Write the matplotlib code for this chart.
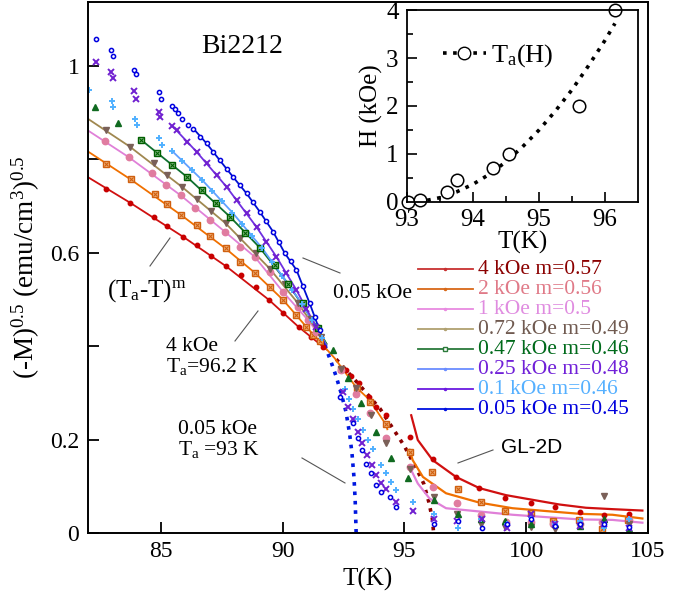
import matplotlib.pyplot as plt
from matplotlib.lines import Line2D

plt.rcParams['font.family'] = ['Liberation Serif', 'DejaVu Serif']
plt.rcParams['mathtext.fontset'] = 'custom'
plt.rcParams['mathtext.rm'] = 'Liberation Serif'
plt.rcParams['mathtext.it'] = 'Liberation Serif:italic'

# ---- 4 kOe ----
t_4k = [82.75, 83.74, 84.72, 85.26, 85.92, 86.47, 87.08, 87.68, 88.31, 88.89, 89.44, 90.02,
        90.66, 91.18, 91.66, 92.60, 92.82, 93.12, 93.54, 93.84, 94.25,
        95.21, 96.16, 97.12, 98.08, 99.15, 100.2, 101.2, 102.2, 103.2, 104.2]
m_4k = [0.736, 0.707, 0.677, 0.657, 0.634, 0.616, 0.593, 0.571, 0.552, 0.526, 0.499, 0.470,
        0.441, 0.420, 0.399, 0.349, 0.336, 0.322, 0.292, 0.269, 0.252,
        0.206, 0.158, 0.120, 0.096, 0.074, 0.065, 0.055, 0.045, 0.038, 0.040]
fit_t_4k = [82.0, 83.74, 85.92, 87.68, 89.44, 90.66, 91.8]
fit_m_4k = [0.762, 0.707, 0.634, 0.571, 0.499, 0.441, 0.393]
ext_t_4k = [92.2, 92.6, 93.1, 93.5, 94.0, 94.5, 95.0, 95.5, 95.8, 96.0, 96.15, 96.2]
ext_m_4k = [0.372, 0.349, 0.320, 0.296, 0.266, 0.226, 0.186, 0.137, 0.105, 0.067, 0.03, 0.0]
gl_t_4k = [95.28, 95.55, 96.16, 97.12, 98.08, 99.17, 100.26, 101.36, 102.45, 103.54, 104.77]
gl_m_4k = [0.252, 0.199, 0.156, 0.120, 0.096, 0.081, 0.071, 0.061, 0.054, 0.051, 0.048]

# ---- 2 kOe ----
t_2k = [82.75, 83.76, 84.76, 85.26, 85.85, 86.47, 87.04, 87.66, 88.24, 88.86, 89.47, 90.02,
        90.57, 90.98, 91.25, 91.52, 92.41, 93.05, 93.60, 94.23,
        95.24, 96.13, 97.19, 98.15, 99.15, 100.2, 101.1, 102.15, 103.13, 104.16]
m_2k = [0.790, 0.757, 0.725, 0.704, 0.680, 0.659, 0.636, 0.609, 0.581, 0.557, 0.526, 0.499,
        0.467, 0.441, 0.424, 0.410, 0.352, 0.310, 0.280, 0.233,
        0.174, 0.131, 0.094, 0.067, 0.047, 0.042, 0.025, 0.028, 0.008, 0.028]
fit_t_2k = [82.0, 83.76, 85.85, 87.66, 88.86, 90.02, 90.98, 91.52, 92.14, 93.02, 93.57, 94.23, 94.3]
fit_m_2k = [0.817, 0.757, 0.680, 0.609, 0.557, 0.499, 0.441, 0.410, 0.374, 0.312, 0.285, 0.233, 0.222]
gl_t_2k = [95.21, 95.34, 95.76, 96.71, 98.08, 99.44, 100.8, 102.2, 103.54, 104.77]
gl_m_2k = [0.178, 0.156, 0.120, 0.085, 0.065, 0.053, 0.047, 0.041, 0.039, 0.031]

# ---- 1 kOe ----
t_1k = [82.71, 83.70, 84.66, 85.21, 85.81, 86.40, 87.01, 87.63, 88.24, 88.86, 89.47, 90.02,
        90.63, 91.04, 91.38, 92.41, 93.02, 93.60, 94.23,
        95.21, 96.16, 97.15, 98.15, 99.17, 100.2, 101.1, 102.2, 103.1, 104.2]
m_1k = [0.840, 0.804, 0.770, 0.745, 0.723, 0.695, 0.670, 0.645, 0.613, 0.591, 0.559, 0.516,
        0.483, 0.456, 0.431, 0.349, 0.298, 0.256, 0.203,
        0.142, 0.099, 0.065, 0.039, 0.024, 0.024, 0.020, 0.020, 0.024, 0.028]
fit_t_1k = [82.0, 83.70, 85.81, 87.63, 88.86, 90.02, 91.04, 91.8]
fit_m_1k = [0.862, 0.804, 0.723, 0.645, 0.591, 0.516, 0.456, 0.404]
gl_t_1k = [95.21, 95.55, 96.03, 96.71, 98.08, 99.44, 100.8, 102.2, 103.54, 104.77]
gl_m_1k = [0.142, 0.106, 0.074, 0.053, 0.046, 0.039, 0.034, 0.029, 0.028, 0.022]

# ---- 0.72 kOe ----
t_072 = [82.75, 83.73, 84.72, 85.26, 85.89, 86.47, 87.05, 87.66, 88.27, 88.90, 89.47, 90.09,
         90.63, 91.18, 91.59, 92.41, 93.02, 93.64, 94.25, 95.21, 96.20,
         97.15, 98.15, 99.15, 100.2, 101.2, 102.2, 103.2, 104.2]
m_072 = [0.862, 0.827, 0.791, 0.766, 0.740, 0.716, 0.690, 0.663, 0.631, 0.599, 0.566, 0.534,
         0.492, 0.459, 0.420, 0.352, 0.310, 0.253, 0.192, 0.138, 0.078,
         0.040, 0.020, 0.012, 0.012, 0.008, 0.015, 0.079, 0.020]
fit_t_072 = [82.0, 83.73, 85.89, 87.66, 89.47, 90.63, 91.8]
fit_m_072 = [0.887, 0.827, 0.740, 0.663, 0.566, 0.492, 0.405]

# ---- 0.47 kOe (squares on the fit, triangles elsewhere) ----
t_047 = [84.18, 84.85, 85.48, 86.08, 86.68, 87.26, 87.86, 88.46, 89.06, 89.68, 90.22, 90.84, 91.45]
m_047 = [0.842, 0.814, 0.787, 0.762, 0.734, 0.706, 0.676, 0.643, 0.611, 0.574, 0.534, 0.492, 0.438]
t_047b = [82.30, 83.25, 92.07, 92.68, 93.23, 93.84, 94.46, 95.14, 96.20,
          97.20, 98.15, 99.15, 100.2, 101.2, 102.2, 103.2, 104.2]
m_047b = [0.912, 0.878, 0.392, 0.331, 0.278, 0.217, 0.160, 0.117, 0.071,
          0.040, 0.030, 0.025, 0.020, 0.020, 0.015, 0.030, 0.008]
fit_t_047 = [84.18, 86.08, 87.86, 89.06, 90.22, 91.45, 91.8]
fit_m_047 = [0.842, 0.762, 0.676, 0.611, 0.534, 0.438, 0.405]

# ---- 0.25 kOe ----
t_025 = [82.34, 82.96, 83.05, 83.90, 84.00, 84.92, 84.96, 85.48, 85.65, 86.06, 86.47, 86.88,
         87.29, 87.70, 88.11, 88.52, 88.93, 89.34, 89.75, 90.16, 90.57, 90.98, 91.39,
         92.48, 92.68, 92.89, 93.09, 93.27, 93.46, 93.68, 93.84, 94.05, 94.25, 94.66, 95.35,
         96.20, 97.15, 98.20, 99.20, 100.2, 101.2, 102.2, 103.2, 104.2]
m_025 = [1.009, 0.987, 0.973, 0.946, 0.930, 0.901, 0.891, 0.871, 0.862, 0.837, 0.816, 0.791,
         0.766, 0.741, 0.713, 0.684, 0.655, 0.623, 0.591, 0.556, 0.520, 0.480, 0.440,
         0.302, 0.270, 0.243, 0.217, 0.193, 0.167, 0.146, 0.124, 0.108, 0.094, 0.067, 0.046,
         0.030, 0.025, 0.030, 0.010, 0.040, 0.020, 0.015, 0.020, 0.010]
fit_t_025 = [85.48, 86.47, 87.70, 88.93, 89.75, 90.57, 91.39, 91.8]
fit_m_025 = [0.871, 0.816, 0.741, 0.655, 0.591, 0.520, 0.440, 0.400]

# ---- 0.1 kOe ----
t_01 = [82.07, 82.98, 83.05, 83.94, 84.03, 84.92, 85.05, 85.48, 85.89, 86.30, 86.71, 87.12,
        87.53, 87.94, 88.35, 88.76, 89.17, 89.58, 89.99, 90.40, 90.81, 91.22, 91.63,
        92.55, 92.72, 92.91, 93.10, 93.30, 93.50, 93.71, 94.05, 94.25, 94.46, 94.66, 95.35,
        96.20, 97.20, 98.15, 99.20, 100.2, 101.2, 102.2, 103.2, 104.2]
m_01 = [0.949, 0.925, 0.912, 0.887, 0.874, 0.845, 0.830, 0.817, 0.797, 0.776, 0.755, 0.733,
        0.710, 0.686, 0.662, 0.636, 0.609, 0.580, 0.550, 0.520, 0.490, 0.455, 0.418,
        0.308, 0.286, 0.265, 0.243, 0.220, 0.199, 0.179, 0.146, 0.128, 0.110, 0.092, 0.067,
        0.040, 0.010, 0.030, 0.020, 0.035, 0.020, 0.025, 0.010, 0.030]
fit_t_01 = [85.48, 86.71, 87.94, 89.17, 89.99, 90.81, 91.63, 91.8]
fit_m_01 = [0.817, 0.755, 0.686, 0.609, 0.550, 0.490, 0.418, 0.402]

# ---- 0.05 kOe ----
t_005 = [82.33, 82.96, 83.05, 83.90, 83.97, 84.92, 85.00, 85.48, 85.58, 85.71, 85.89, 86.12,
         86.33, 86.60, 86.88, 87.15, 87.42, 87.70, 87.97, 88.25, 88.52, 88.79, 89.06, 89.34,
         89.61, 89.85, 90.09, 90.33, 90.57, 90.84, 91.11, 91.32, 91.52,
         92.34, 92.89, 93.09, 93.27, 93.43, 93.64, 93.84, 94.05, 94.43, 94.64,
         96.20, 97.20, 98.20, 99.20, 100.2, 101.2, 102.2, 103.2, 104.2]
m_005 = [1.057, 1.034, 1.022, 0.992, 0.982, 0.944, 0.930, 0.914, 0.907, 0.898, 0.886, 0.873,
         0.864, 0.848, 0.834, 0.816, 0.798, 0.780, 0.762, 0.745, 0.727, 0.708, 0.688, 0.667,
         0.645, 0.622, 0.599, 0.582, 0.563, 0.528, 0.492, 0.463, 0.434,
         0.292, 0.235, 0.203, 0.178, 0.147, 0.128, 0.103, 0.088, 0.076, 0.056,
         0.020, 0.025, 0.010, 0.020, 0.030, 0.015, 0.020, 0.020, 0.012]
fit_t_005 = [86.40, 86.88, 87.42, 87.97, 88.52, 89.06, 89.61, 90.09, 90.57, 91.11, 91.52, 91.73]
fit_m_005 = [0.862, 0.834, 0.798, 0.762, 0.727, 0.688, 0.645, 0.599, 0.563, 0.492, 0.434, 0.402]
ext_t_005 = [91.73, 92.0, 92.2, 92.4, 92.6, 92.75, 92.85, 92.93, 92.98, 93.02]
ext_m_005 = [0.402, 0.365, 0.335, 0.300, 0.260, 0.213, 0.170, 0.120, 0.070, 0.0]

# ---- inset: Ta(H) ----
ta = [93.02, 93.2, 93.6, 93.75, 94.3, 94.55, 95.6, 96.15]
h_ta = [0.0, 0.05, 0.2, 0.45, 0.7, 1.0, 2.0, 4.0]
fit_ta = [93.0, 93.25, 93.5, 93.75, 94.0, 94.25, 94.5, 94.75, 95.0, 95.25, 95.5, 95.75, 96.0, 96.15]
fit_h = [0.0, 0.02, 0.09, 0.21, 0.37, 0.58, 0.84, 1.15, 1.5, 1.9, 2.34, 2.84, 3.37, 3.72]

legend_labels = ['4 kOe m=0.57', '2 kOe m=0.56', '1 kOe m=0.5', '0.72 kOe m=0.49',
                 '0.47 kOe m=0.46', '0.25 kOe m=0.48', '0.1 kOe m=0.46', '0.05 kOe m=0.45']
legend_text_colors = ['#8b0000', '#e07a88', '#e08ce0', '#705a50', '#006a1a', '#7020d8', '#55b0ff', '#0000dd']
legend_line_colors = ['#c83030', '#d86818', '#e88ae0', '#b0a070', '#2a7a3a', '#6a8cff', '#6a1ae0', '#0010e0']

fig = plt.figure(figsize=(6.97, 5.92), dpi=100)
ax = fig.add_axes([0.1258, 0.0997, 0.8039, 0.8964])

# fit curves
ax.plot(fit_t_4k, fit_m_4k, color='#d01010', lw=1.3)
ax.plot(ext_t_4k, ext_m_4k, color='#8b0000', lw=2.6, ls=(0, (1, 1.6)))
ax.plot(gl_t_4k, gl_m_4k, color='#d01010', lw=1.6)
ax.plot(fit_t_2k, fit_m_2k, color='#f07000', lw=1.3)
ax.plot(gl_t_2k, gl_m_2k, color='#f07000', lw=1.6)
ax.plot(fit_t_1k, fit_m_1k, color='#e080d8', lw=1.3)
ax.plot(gl_t_1k, gl_m_1k, color='#e080d8', lw=1.6)
ax.plot(fit_t_072, fit_m_072, color='#a08850', lw=1.3)
ax.plot(fit_t_047, fit_m_047, color='#107030', lw=1.3)
ax.plot(fit_t_01, fit_m_01, color='#60a0ff', lw=1.3)
ax.plot(fit_t_025, fit_m_025, color='#7030e0', lw=1.3)
ax.plot(fit_t_005, fit_m_005, color='#0010d0', lw=1.3)
ax.plot(ext_t_005, ext_m_005, color='#0018e0', lw=2.6, ls=(0, (1, 1.6)))

# measured points
ax.plot(t_4k, m_4k, ls='none', marker='o', ms=3.2, color='#c80000')
ax.plot(t_2k, m_2k, ls='none', marker='s', ms=5, mfc='#f4b880', mec='#d06010', mew=1.0)
ax.plot(t_2k, m_2k, ls='none', marker='x', ms=3.5, color='#d06010', mew=0.8)
ax.plot(t_1k, m_1k, ls='none', marker='o', ms=4.6, color='#e07ca0')
ax.plot(t_072, m_072, ls='none', marker='v', ms=5, color='#7a6058')
ax.plot(t_047, m_047, ls='none', marker='s', ms=5, mfc='#90c090', mec='#006000', mew=1.0)
ax.plot(t_047, m_047, ls='none', marker='x', ms=3.5, color='#006000', mew=0.8)
ax.plot(t_047b, m_047b, ls='none', marker='^', ms=5, color='#106a20')
ax.plot(t_01, m_01, ls='none', marker='+', ms=5, color='#50b0ff', mew=1.4)
ax.plot(t_025, m_025, ls='none', marker='x', ms=4, color='#7020d0', mew=1.4)
ax.plot(t_005, m_005, ls='none', marker='o', ms=3, mfc='white', mec='#0000e0', mew=1.1)

ax.set_xlim(82, 105)
ax.set_ylim(0, 1.136)
ax.set_xticks([85, 90, 95, 100, 105])
ax.set_yticks([0, 0.2, 0.4, 0.6, 0.8, 1.0])
ax.set_yticklabels(['0', '0.2', '', '0.6', '', '1'])
ax.tick_params(direction='in', length=8, width=1.3, labelsize=17, pad=6)
for s in ax.spines.values():
    s.set_linewidth(1.4)
ax.set_xlabel('T(K)', fontsize=18, labelpad=4)
ax.set_ylabel('(-M)$^{0.5}$ (emu/cm$^3$)$^{0.5}$', fontsize=19.5, labelpad=6)

# legend drawn row by row
for i, lab in enumerate(legend_labels):
    y = 0.497 - i * 0.0377
    ax.plot([0.59, 0.687], [y, y], transform=ax.transAxes, color=legend_line_colors[i], lw=1.3)
    ax.plot([0.638], [y], transform=ax.transAxes, marker='s' if i == 4 else 'o',
            ms=3 if i == 4 else 1.5, mfc='white' if i == 4 else legend_line_colors[i],
            mec=legend_line_colors[i])
    ax.text(0.697, y, lab, transform=ax.transAxes, color=legend_text_colors[i],
            fontsize=15.5, va='center', ha='left')

# annotations
ax.text(0.275, 0.917, 'Bi2212', transform=ax.transAxes, fontsize=20, ha='center', va='center')
ax.text(0.035, 0.456, '(T$_{\\rm a}$-T)$^{\\rm m}$', transform=ax.transAxes, fontsize=18,
        ha='left', va='center')
ax.text(0.438, 0.452, '0.05 kOe', transform=ax.transAxes, fontsize=15.5, ha='left', va='center')
ax.text(0.14, 0.331, '4 kOe\nT$_{\\rm a}$=96.2 K', transform=ax.transAxes, fontsize=15.5,
        ha='left', va='center', linespacing=1.0)
ax.text(0.161, 0.175, '0.05 kOe\nT$_{\\rm a}$ =93 K', transform=ax.transAxes, fontsize=15.5,
        ha='left', va='center', linespacing=1.0)
ax.text(0.737, 0.162, 'GL-2D', transform=ax.transAxes, fontsize=15, family='Liberation Sans',
        ha='left', va='center')

# pointer lines, given in pixels and turned into axes fractions
for (x0, y0), (x1, y1) in [((150, 266), (170, 238)), ((303, 258), (340, 273)),
                           ((235, 341), (258, 311)), ((302, 458), (345, 483)),
                           ((458, 463), (493, 450))]:
    ax.plot([(x0 - 87.7) / 560.3, (x1 - 87.7) / 560.3],
            [(533 - y0) / 530.7, (533 - y1) / 530.7],
            transform=ax.transAxes, color='#555555', lw=0.8)

# inset
ins = fig.add_axes([0.584, 0.6588, 0.3314, 0.3243])
ins.plot(fit_ta, fit_h, color='black', lw=2.6, ls=(0, (1, 1.8)))
ins.plot(ta, h_ta, ls='none', marker='o', ms=9, mfc='white', mec='black', mew=1.1, clip_on=False)
ins.set_xlim(93, 96.5)
ins.set_ylim(0, 4)
ins.set_xticks([93, 94, 95, 96])
ins.set_xticks([93.5, 94.5, 95.5], minor=True)
ins.set_yticks([0, 1, 2, 3, 4])
ins.set_yticks([0.5, 1.5, 2.5, 3.5], minor=True)
ins.tick_params(which='both', direction='in', width=1.2, labelsize=18)
ins.tick_params(axis='x', pad=5)
ins.tick_params(axis='y', pad=6)
ins.tick_params(which='major', length=7)
ins.tick_params(which='minor', length=4)
for s in ins.spines.values():
    s.set_linewidth(1.3)
ins.set_xlabel('T(K)', fontsize=18, labelpad=0)
ins.set_ylabel('H (kOe)', fontsize=18, labelpad=2)
ins.legend([Line2D([], [], color='black', lw=2.6, ls=(0, (1, 1.8)), marker='o', ms=9,
                   mfc='white', mec='black')],
           ['T$_{\\rm a}$(H)'], loc='upper left', bbox_to_anchor=(0.1, 0.9),
           frameon=False, fontsize=19, handlelength=1.6, handletextpad=0.2, borderpad=0)

fig.savefig('out.png', dpi=100)
